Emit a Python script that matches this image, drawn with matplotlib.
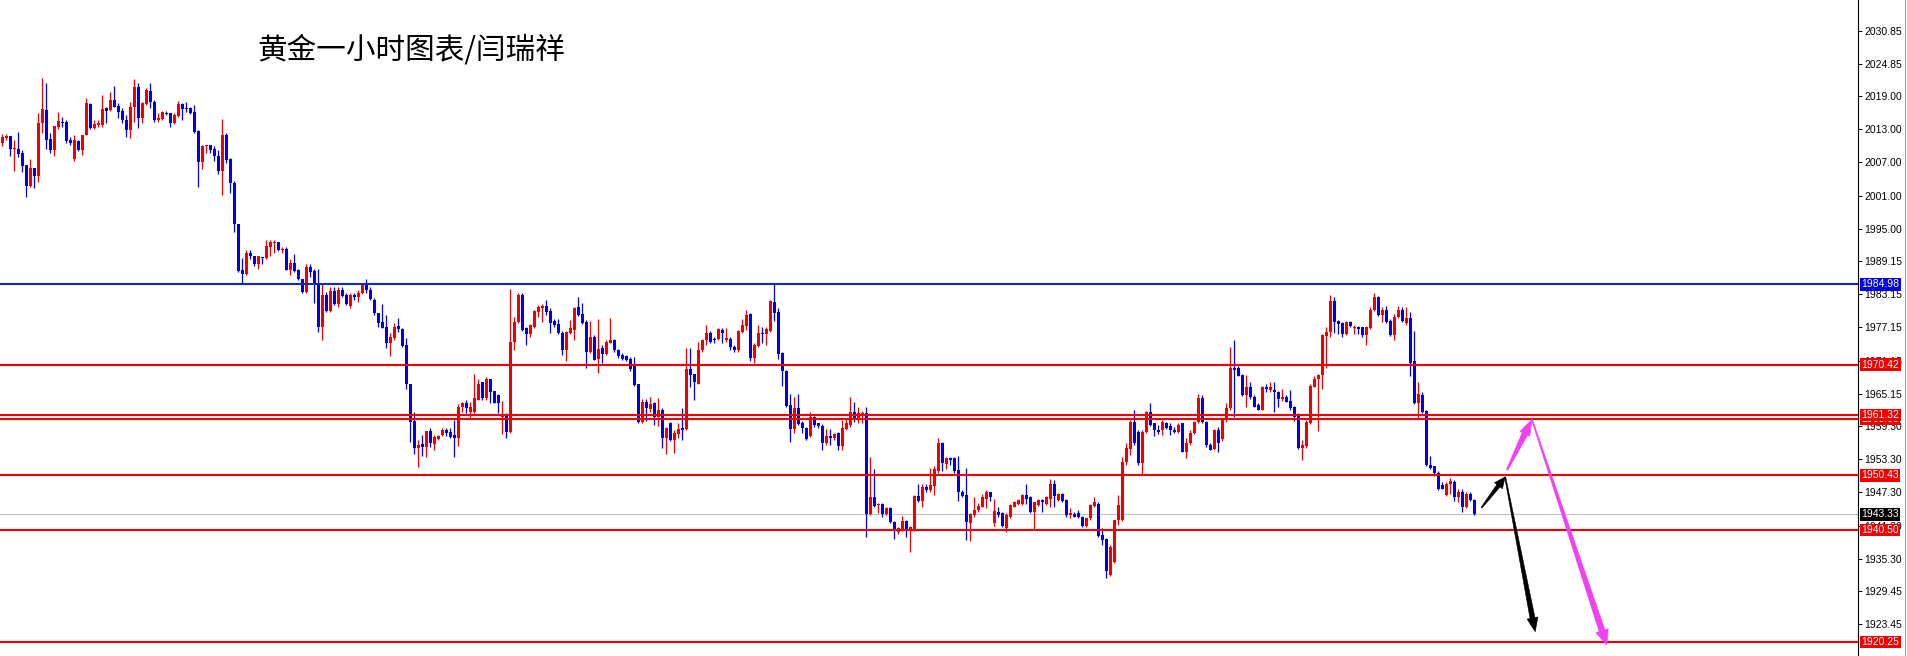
import numpy as np
import matplotlib
matplotlib.use("Agg")
import matplotlib.pyplot as plt
from matplotlib.patches import Polygon
from matplotlib.lines import Line2D
from matplotlib.transforms import blended_transform_factory, IdentityTransform

# hourly gold candles (oldest first)
opens = [
    2010.6, 2011.4, 2011.8, 2009.5, 2009.5, 2008.7, 2006.5, 2002.8, 2006.0, 2004.6,
    2014.1, 2016.5, 2011.2, 2009.3, 2013.5, 2014.4, 2014.4, 2011.1, 2007.6, 2010.8,
    2009.3, 2011.9, 2017.6, 2013.2, 2013.8, 2013.8, 2016.9, 2016.5, 2018.3, 2017.2,
    2016.4, 2014.7, 2012.9, 2017.0, 2020.7, 2015.1, 2017.6, 2020.0, 2018.0, 2014.7,
    2014.8, 2016.0, 2015.9, 2014.1, 2015.5, 2017.6, 2016.9, 2016.8, 2016.2, 2012.7,
    2007.0, 2009.9, 2010.1, 2009.4, 2008.2, 2005.4, 2012.0, 2007.6, 2003.2, 1995.8,
    1987.6, 1986.8, 1990.7, 1990.1, 1988.7, 1989.9, 1989.7, 1991.8, 1992.4, 1992.7,
    1991.2, 1991.3, 1987.6, 1988.8, 1987.5, 1986.0, 1983.6, 1988.1, 1987.4, 1985.0,
    1977.3, 1983.1, 1980.2, 1983.8, 1981.4, 1983.9, 1983.0, 1981.0, 1983.0, 1982.6,
    1983.3, 1985.0, 1984.0, 1982.2, 1979.7, 1978.2, 1977.2, 1974.4, 1975.2, 1977.4,
    1976.8, 1974.0, 1967.0, 1960.3, 1955.3, 1956.1, 1955.6, 1958.5, 1956.1, 1956.9,
    1957.7, 1958.6, 1958.3, 1957.7, 1957.1, 1962.7, 1963.4, 1961.9, 1961.9, 1964.1,
    1967.2, 1964.3, 1967.8, 1965.7, 1964.9, 1960.9, 1961.5, 1958.3, 1974.6, 1978.2,
    1983.0, 1977.0, 1976.0, 1977.2, 1979.9, 1980.7, 1981.1, 1980.2, 1978.4, 1977.8,
    1976.2, 1973.0, 1976.2, 1976.7, 1980.8, 1979.6, 1978.2, 1972.8, 1975.4, 1971.4,
    1973.4, 1972.4, 1974.4, 1974.9, 1973.1, 1972.2, 1972.0, 1971.4, 1970.2, 1966.9,
    1960.1, 1963.7, 1962.4, 1963.4, 1961.0, 1962.3, 1957.1, 1959.9, 1956.8, 1957.8,
    1958.9, 1958.7, 1969.6, 1968.7, 1967.0, 1973.0, 1974.8, 1976.2, 1975.0, 1975.0,
    1976.7, 1974.9, 1975.0, 1973.7, 1973.1, 1976.4, 1977.4, 1979.6, 1971.6, 1973.8,
    1976.2, 1976.0, 1976.6, 1981.8, 1980.0, 1972.5, 1969.3, 1963.1, 1958.7, 1962.5,
    1959.9, 1958.9, 1957.5, 1960.9, 1959.8, 1959.3, 1956.2, 1957.5, 1957.1, 1958.0,
    1955.7, 1958.7, 1959.5, 1961.9, 1960.5, 1961.5, 1961.7, 1943.4, 1946.4, 1945.0,
    1945.3, 1943.4, 1944.4, 1942.0, 1940.2, 1940.6, 1942.2, 1940.6, 1940.6, 1946.7,
    1945.8, 1948.3, 1947.7, 1948.5, 1951.1, 1956.2, 1952.5, 1953.5, 1953.5, 1951.4,
    1947.4, 1946.8, 1941.8, 1943.2, 1944.1, 1944.7, 1946.1, 1947.3, 1941.8, 1943.8,
    1943.6, 1940.8, 1942.9, 1944.7, 1945.2, 1945.3, 1946.8, 1946.5, 1943.8, 1945.0,
    1945.9, 1945.3, 1946.2, 1948.8, 1946.0, 1947.0, 1945.9, 1943.2, 1943.4, 1943.6,
    1942.9, 1941.2, 1942.6, 1944.8, 1945.3, 1939.6, 1938.8, 1932.4, 1934.8, 1942.3,
    1942.3, 1952.9, 1955.1, 1960.1, 1958.3, 1952.6, 1958.3, 1961.9, 1959.8, 1958.6,
    1958.6, 1959.9, 1959.3, 1958.6, 1958.3, 1959.8, 1954.7, 1956.2, 1958.0, 1960.1,
    1964.3, 1960.1, 1955.9, 1955.1, 1958.6, 1956.9, 1960.4, 1962.5, 1969.9, 1969.9,
    1968.5, 1964.9, 1966.3, 1964.5, 1963.1, 1962.3, 1966.4, 1965.8, 1965.8, 1965.5,
    1964.2, 1964.6, 1963.9, 1962.8, 1961.1, 1955.3, 1955.7, 1959.9, 1966.4, 1967.8,
    1968.6, 1975.6, 1976.4, 1982.0, 1978.4, 1978.0, 1976.0, 1978.2, 1977.0, 1977.3,
    1977.2, 1975.8, 1977.0, 1980.3, 1982.6, 1979.4, 1980.4, 1978.4, 1975.8, 1979.0,
    1980.3, 1977.9, 1978.8, 1971.0, 1963.5, 1964.9, 1962.1, 1952.3, 1952.0, 1950.8,
    1948.6, 1946.8, 1948.8, 1949.2, 1946.4, 1947.4, 1944.7, 1947.1, 1945.9,
]
highs = [
    2012.2, 2012.1, 2011.8, 2011.1, 2012.5, 2009.3, 2006.5, 2007.6, 2006.0, 2015.9,
    2022.2, 2021.3, 2012.3, 2013.6, 2016.2, 2015.3, 2014.7, 2011.7, 2012.0, 2011.0,
    2012.0, 2018.6, 2017.8, 2014.7, 2014.7, 2019.2, 2017.1, 2019.8, 2020.8, 2017.7,
    2016.8, 2015.6, 2018.0, 2022.1, 2021.3, 2018.0, 2020.4, 2021.3, 2018.3, 2015.9,
    2016.4, 2016.4, 2016.0, 2015.9, 2018.2, 2017.7, 2018.0, 2017.0, 2017.4, 2012.9,
    2010.2, 2010.2, 2010.2, 2009.9, 2009.3, 2014.8, 2012.4, 2007.8, 2003.7, 1995.8,
    1989.8, 1991.2, 1991.2, 1990.1, 1990.1, 1989.9, 1993.0, 1993.0, 1993.0, 1992.7,
    1991.8, 1991.8, 1989.5, 1990.4, 1987.8, 1986.0, 1988.7, 1988.6, 1987.8, 1987.8,
    1985.1, 1983.6, 1984.4, 1984.4, 1984.4, 1984.4, 1983.3, 1983.3, 1983.4, 1983.9,
    1985.2, 1985.9, 1984.5, 1982.4, 1979.8, 1981.4, 1979.4, 1976.1, 1977.9, 1978.8,
    1977.0, 1975.2, 1967.0, 1961.9, 1956.8, 1957.7, 1958.5, 1958.9, 1957.7, 1957.7,
    1958.9, 1958.9, 1958.9, 1960.4, 1963.3, 1963.7, 1964.0, 1963.7, 1968.7, 1967.8,
    1967.3, 1968.2, 1967.9, 1965.7, 1965.2, 1963.9, 1961.6, 1984.1, 1979.1, 1983.3,
    1983.3, 1977.3, 1977.8, 1980.4, 1981.2, 1981.4, 1982.2, 1980.6, 1978.6, 1978.6,
    1976.6, 1976.6, 1978.5, 1980.8, 1982.6, 1981.5, 1978.5, 1978.4, 1975.8, 1978.6,
    1974.0, 1974.9, 1978.8, 1975.0, 1973.2, 1972.5, 1972.2, 1971.8, 1971.8, 1967.0,
    1964.2, 1964.2, 1964.6, 1963.7, 1964.3, 1962.5, 1959.2, 1960.1, 1958.6, 1959.8,
    1962.5, 1973.4, 1973.4, 1968.8, 1974.6, 1975.0, 1977.6, 1976.6, 1975.4, 1977.0,
    1977.0, 1977.0, 1975.4, 1974.0, 1976.7, 1978.6, 1980.4, 1979.8, 1974.3, 1977.6,
    1977.3, 1977.3, 1982.1, 1985.0, 1980.6, 1972.8, 1969.5, 1965.2, 1964.6, 1965.2,
    1960.3, 1959.2, 1961.9, 1961.1, 1959.9, 1959.7, 1958.7, 1958.7, 1958.1, 1958.3,
    1960.4, 1960.5, 1964.6, 1963.7, 1962.8, 1962.1, 1962.8, 1953.8, 1951.5, 1945.4,
    1945.4, 1944.7, 1944.6, 1942.2, 1941.1, 1943.0, 1942.3, 1941.2, 1946.8, 1948.8,
    1948.8, 1948.8, 1951.7, 1952.1, 1957.1, 1956.5, 1953.8, 1953.8, 1953.8, 1953.9,
    1947.7, 1951.7, 1943.6, 1946.4, 1945.4, 1947.0, 1947.7, 1947.4, 1946.2, 1944.7,
    1943.8, 1943.5, 1945.3, 1945.8, 1946.2, 1947.1, 1948.9, 1946.7, 1945.6, 1946.2,
    1946.2, 1946.7, 1949.7, 1949.5, 1947.2, 1947.2, 1946.2, 1944.4, 1943.8, 1944.1,
    1943.0, 1942.7, 1945.2, 1946.5, 1945.5, 1940.8, 1939.0, 1937.8, 1942.4, 1946.8,
    1953.8, 1956.3, 1960.4, 1962.2, 1958.6, 1958.6, 1962.1, 1963.5, 1959.9, 1959.5,
    1960.4, 1960.1, 1959.8, 1959.2, 1959.9, 1959.9, 1957.1, 1958.6, 1960.3, 1965.2,
    1964.9, 1960.3, 1956.2, 1958.7, 1959.2, 1960.7, 1963.4, 1973.6, 1974.8, 1970.2,
    1968.7, 1968.6, 1967.3, 1964.9, 1963.4, 1966.6, 1966.9, 1967.3, 1967.3, 1965.7,
    1966.1, 1964.9, 1965.8, 1962.9, 1961.6, 1956.8, 1960.4, 1966.9, 1968.4, 1968.8,
    1976.0, 1977.3, 1983.0, 1982.6, 1978.5, 1978.2, 1978.4, 1978.4, 1977.6, 1977.4,
    1977.3, 1977.4, 1980.8, 1983.3, 1982.8, 1980.8, 1981.0, 1978.6, 1979.6, 1981.0,
    1980.9, 1980.9, 1980.0, 1976.6, 1967.2, 1965.4, 1962.2, 1953.9, 1952.1, 1951.1,
    1949.2, 1949.2, 1949.9, 1949.5, 1948.0, 1948.0, 1947.4, 1947.4, 1946.2,
]
lows = [
    2009.9, 2011.1, 2008.2, 2005.5, 2008.0, 2005.3, 2000.8, 2002.5, 2002.4, 2003.4,
    2012.3, 2009.4, 2008.7, 2008.2, 2013.0, 2013.5, 2010.5, 2010.2, 2007.2, 2009.1,
    2008.4, 2011.9, 2013.0, 2013.0, 2013.4, 2013.4, 2014.1, 2016.4, 2017.0, 2015.0,
    2014.2, 2011.7, 2011.4, 2014.4, 2013.2, 2014.1, 2017.4, 2016.8, 2014.4, 2014.4,
    2014.7, 2015.6, 2013.5, 2014.0, 2015.3, 2014.7, 2016.2, 2015.8, 2012.3, 2002.5,
    2005.8, 2008.8, 2008.7, 2007.3, 2005.0, 2001.1, 2006.9, 2001.5, 1994.5, 1987.1,
    1985.1, 1986.7, 1989.5, 1988.3, 1987.8, 1988.7, 1989.5, 1990.0, 1990.6, 1991.0,
    1990.6, 1987.5, 1986.6, 1987.2, 1985.7, 1983.4, 1983.3, 1986.3, 1981.6, 1976.4,
    1974.8, 1980.0, 1980.0, 1981.2, 1980.9, 1982.7, 1981.3, 1980.6, 1982.2, 1981.8,
    1983.2, 1983.4, 1982.1, 1979.4, 1977.3, 1977.0, 1973.4, 1972.0, 1974.9, 1976.4,
    1973.7, 1966.1, 1956.5, 1954.3, 1951.9, 1953.9, 1953.8, 1955.6, 1955.0, 1956.8,
    1957.5, 1957.5, 1957.1, 1953.8, 1955.7, 1961.9, 1961.6, 1960.7, 1961.6, 1964.0,
    1964.1, 1964.1, 1963.4, 1963.4, 1961.6, 1957.9, 1957.1, 1958.0, 1973.1, 1977.9,
    1976.6, 1974.0, 1975.4, 1977.0, 1979.1, 1978.2, 1979.4, 1976.1, 1977.3, 1976.0,
    1972.2, 1971.0, 1976.0, 1974.9, 1979.2, 1977.8, 1969.8, 1972.5, 1971.2, 1968.9,
    1970.7, 1972.2, 1974.3, 1972.8, 1971.6, 1971.3, 1971.0, 1969.3, 1966.6, 1959.9,
    1959.9, 1960.3, 1961.9, 1959.5, 1959.3, 1955.3, 1954.3, 1956.7, 1954.4, 1957.1,
    1956.8, 1958.6, 1966.4, 1964.0, 1966.9, 1972.8, 1974.0, 1974.3, 1974.3, 1974.9,
    1974.4, 1974.6, 1973.0, 1972.8, 1972.8, 1976.2, 1976.7, 1971.0, 1970.7, 1973.6,
    1974.3, 1974.0, 1976.4, 1978.4, 1971.4, 1966.6, 1962.7, 1956.5, 1958.1, 1959.5,
    1958.0, 1956.8, 1957.4, 1959.2, 1958.9, 1954.9, 1955.9, 1955.9, 1956.8, 1954.9,
    1954.9, 1958.6, 1959.2, 1960.1, 1959.8, 1959.8, 1939.2, 1943.2, 1944.7, 1943.5,
    1942.8, 1943.2, 1941.7, 1938.8, 1939.8, 1940.4, 1939.3, 1936.6, 1940.4, 1945.6,
    1944.7, 1947.4, 1947.4, 1946.8, 1950.8, 1951.2, 1951.5, 1952.3, 1950.8, 1945.8,
    1946.5, 1938.7, 1938.6, 1942.9, 1943.8, 1944.6, 1944.4, 1945.8, 1941.2, 1942.9,
    1941.1, 1940.2, 1942.6, 1944.6, 1945.0, 1945.0, 1945.3, 1943.5, 1940.5, 1944.8,
    1943.8, 1945.0, 1944.7, 1944.7, 1945.8, 1945.6, 1942.9, 1942.6, 1942.8, 1942.6,
    1941.1, 1941.0, 1942.4, 1944.6, 1939.2, 1937.8, 1931.8, 1932.1, 1934.6, 1941.4,
    1942.2, 1952.3, 1954.1, 1955.9, 1952.3, 1950.6, 1958.1, 1959.3, 1957.5, 1957.9,
    1957.7, 1958.8, 1957.7, 1958.1, 1958.0, 1954.6, 1953.5, 1955.9, 1957.9, 1959.9,
    1959.8, 1955.6, 1954.9, 1954.9, 1954.7, 1956.7, 1960.1, 1962.2, 1961.0, 1968.3,
    1964.8, 1962.8, 1964.2, 1962.7, 1962.2, 1962.2, 1965.5, 1965.5, 1961.9, 1962.8,
    1963.9, 1963.6, 1962.3, 1960.3, 1955.1, 1953.2, 1955.3, 1959.7, 1966.3, 1958.5,
    1966.0, 1969.8, 1975.4, 1976.2, 1976.0, 1975.4, 1975.8, 1977.2, 1976.0, 1976.0,
    1975.4, 1974.0, 1976.8, 1980.2, 1979.2, 1978.2, 1977.9, 1975.6, 1974.8, 1978.8,
    1978.2, 1977.6, 1968.4, 1963.3, 1960.7, 1961.6, 1952.0, 1951.5, 1950.2, 1947.8,
    1947.9, 1946.7, 1947.0, 1945.8, 1945.6, 1943.8, 1944.4, 1945.8, 1943.2,
]
closes = [
    2011.7, 2011.8, 2009.5, 2009.6, 2008.5, 2006.4, 2002.8, 2006.0, 2004.6, 2014.1,
    2016.6, 2011.1, 2009.3, 2013.6, 2014.5, 2014.1, 2010.9, 2010.5, 2011.0, 2009.3,
    2012.0, 2017.7, 2013.2, 2014.0, 2014.2, 2016.6, 2016.4, 2018.3, 2017.1, 2016.2,
    2014.6, 2012.9, 2017.1, 2020.7, 2015.1, 2017.7, 2020.1, 2018.0, 2014.7, 2015.0,
    2016.2, 2015.8, 2014.2, 2015.6, 2017.6, 2016.6, 2016.7, 2015.9, 2012.6, 2007.0,
    2010.0, 2010.1, 2009.3, 2008.1, 2005.4, 2012.0, 2007.5, 2003.2, 1995.8, 1987.4,
    1986.8, 1990.6, 1990.0, 1988.7, 1990.0, 1989.7, 1991.9, 1992.7, 1992.7, 1991.2,
    1991.3, 1987.6, 1988.8, 1987.4, 1985.9, 1983.6, 1988.1, 1987.2, 1984.8, 1977.3,
    1983.0, 1980.2, 1983.8, 1981.4, 1984.0, 1982.8, 1981.4, 1983.0, 1982.6, 1983.4,
    1985.0, 1983.9, 1982.3, 1979.7, 1978.0, 1977.1, 1974.4, 1975.4, 1977.2, 1976.8,
    1973.8, 1967.0, 1960.1, 1955.3, 1955.9, 1955.6, 1958.5, 1956.2, 1957.4, 1957.5,
    1958.6, 1958.1, 1957.4, 1957.1, 1962.8, 1963.4, 1962.5, 1962.8, 1964.3, 1966.9,
    1964.3, 1967.9, 1965.5, 1963.5, 1963.4, 1961.3, 1958.3, 1974.6, 1978.2, 1983.0,
    1976.7, 1976.0, 1977.6, 1980.2, 1980.9, 1981.1, 1979.9, 1977.9, 1977.6, 1976.1,
    1973.0, 1976.4, 1977.0, 1980.6, 1979.4, 1978.0, 1972.8, 1975.4, 1971.3, 1973.2,
    1972.4, 1974.6, 1974.9, 1973.0, 1972.0, 1971.4, 1971.3, 1969.6, 1966.7, 1960.1,
    1963.7, 1962.5, 1963.3, 1960.9, 1962.3, 1957.1, 1958.9, 1956.8, 1958.1, 1958.7,
    1958.6, 1969.6, 1968.5, 1967.2, 1973.0, 1974.9, 1976.2, 1974.6, 1974.8, 1976.8,
    1976.2, 1975.2, 1973.6, 1973.1, 1976.6, 1977.6, 1979.4, 1971.6, 1974.0, 1976.2,
    1976.0, 1976.8, 1982.0, 1979.8, 1972.4, 1969.3, 1963.0, 1958.7, 1962.5, 1959.7,
    1958.9, 1956.9, 1961.0, 1959.5, 1959.3, 1956.2, 1957.5, 1957.1, 1957.9, 1955.7,
    1958.9, 1959.8, 1961.9, 1960.5, 1961.7, 1961.7, 1943.4, 1946.4, 1944.8, 1945.2,
    1943.4, 1944.4, 1942.0, 1940.4, 1940.8, 1942.2, 1940.6, 1941.1, 1946.7, 1945.8,
    1948.3, 1947.7, 1948.6, 1951.5, 1956.2, 1952.6, 1953.5, 1953.2, 1951.2, 1947.3,
    1946.7, 1942.0, 1943.4, 1944.2, 1944.8, 1946.4, 1947.3, 1946.4, 1944.0, 1943.2,
    1941.2, 1943.2, 1945.0, 1945.6, 1945.9, 1946.8, 1946.2, 1943.8, 1945.5, 1945.9,
    1945.6, 1946.4, 1948.8, 1946.7, 1947.1, 1945.8, 1943.2, 1943.5, 1942.9, 1942.9,
    1941.2, 1942.6, 1945.0, 1945.5, 1939.4, 1938.7, 1933.1, 1937.5, 1942.3, 1945.0,
    1952.9, 1955.3, 1960.1, 1956.2, 1952.6, 1958.3, 1961.9, 1959.5, 1958.6, 1958.3,
    1960.1, 1958.9, 1958.6, 1958.3, 1959.5, 1954.7, 1956.2, 1958.1, 1960.1, 1964.3,
    1960.1, 1955.9, 1955.0, 1958.6, 1956.3, 1960.5, 1962.5, 1969.9, 1969.4, 1968.4,
    1964.9, 1966.3, 1964.5, 1962.8, 1962.3, 1966.4, 1966.0, 1966.4, 1965.5, 1964.2,
    1964.6, 1963.7, 1962.5, 1961.0, 1955.3, 1955.9, 1960.1, 1966.6, 1967.9, 1968.5,
    1975.8, 1976.4, 1982.0, 1978.2, 1977.8, 1976.0, 1978.2, 1977.4, 1977.3, 1976.8,
    1975.8, 1977.2, 1980.4, 1982.6, 1979.4, 1980.4, 1978.2, 1975.8, 1979.0, 1980.3,
    1978.4, 1978.8, 1970.7, 1963.5, 1965.2, 1961.9, 1952.3, 1951.7, 1950.8, 1947.9,
    1948.0, 1948.8, 1949.4, 1946.4, 1947.4, 1944.7, 1947.1, 1945.9, 1943.33,
]

# horizontal levels drawn on the chart
red_levels = [1970.42, 1960.65, 1961.32, 1950.43, 1940.50, 1920.25]
blue_level = 1984.98
bid_price = 1943.33
price_ticks = [2030.85, 2024.85, 2019.00, 2013.00, 2007.00, 2001.00, 1995.00,
               1989.15, 1983.15, 1977.15, 1971.15, 1965.15, 1959.30, 1953.30,
               1947.30, 1941.30, 1935.30, 1929.45, 1923.45]

# projected path arrows: (bar, price) start -> end
black_arrows = [((369.8, 1944.55), (375.7, 1950.1)),
                ((375.7, 1950.1), (383.2, 1922.1))]
pink_arrows = [((376.2, 1951.4), (382.4, 1960.5)),
               ((382.4, 1960.5), (401.1, 1919.7))]

title = "黄金一小时图表/闫瑞祥"

RED = "#f00000"
BLUE = "#0000e6"
PINK = "#f040f0"

plt.rcParams['font.family'] = ['Liberation Sans', 'DejaVu Sans']

W, H = 1907, 656
fig = plt.figure(figsize=(W / 100, H / 100), dpi=100)
fig.patch.set_facecolor('white')
ax = fig.add_axes([0, 0, 1858 / W, 1])
ax.set_facecolor('white')

o = np.array(opens)
h = np.array(highs)
l = np.array(lows)
c = np.array(closes)
x = np.arange(len(c))
cols = np.where(c >= o, RED, BLUE)

ax.vlines(x, l, h, colors=cols, lw=0.9, zorder=2)
body = np.maximum(np.abs(c - o), 0.15)
ax.bar(x, body, bottom=np.minimum(o, c), width=0.76, color=cols, lw=0, zorder=2)

ax.set_xlim(-0.575, 463.9)
ax.set_ylim(1917.71, 2036.40)

ax.axhline(bid_price, color='#c0c0c0', lw=0.8, zorder=1)
ax.axhline(blue_level, color='#1428b4', lw=1.5, zorder=3)
for lv in red_levels:
    ax.axhline(lv, color=RED, lw=1.5, zorder=3)

# axis on the right, MT4 style
for s in ['left', 'top', 'bottom']:
    ax.spines[s].set_visible(False)
ax.spines['right'].set_linewidth(0.8)
ax.set_xticks([])
ax.set_yticks(price_ticks)
ax.set_yticklabels([f"{t:.2f}" for t in price_ticks])
ax.tick_params(axis='y', left=False, labelleft=False, right=True, labelright=True,
               length=3, width=0.7, pad=1.5, labelsize=7.5, direction='out')

trans = blended_transform_factory(ax.transAxes, ax.transData)


def price_tag(v, color):
    ax.text(1.0018, v, f"{v:.2f}", transform=trans, color='white', fontsize=7.5,
            va='center', ha='left', zorder=6, clip_on=False,
            bbox=dict(boxstyle='square,pad=0.14', fc=color, ec='none'))


for lv in red_levels:
    price_tag(lv, RED)
price_tag(blue_level, BLUE)
price_tag(bid_price, 'black')

fig.add_artist(Line2D([1905 / W, 1905 / W], [0, 1], color='#a0a0a0', lw=0.8))


def taper_arrow(p0, p1, color, w0, w1, head_w, head_len):
    (x0, y0), (x1, y1) = ax.transData.transform([p0, p1])
    d = np.array([x1 - x0, y1 - y0])
    u = d / np.hypot(*d)
    n = np.array([-u[1], u[0]])
    a = np.array([x0, y0])
    tip = np.array([x1, y1])
    base = tip - u * head_len
    pts = [a + n * w0 / 2, base + n * w1 / 2, base + n * head_w / 2, tip,
           base - n * head_w / 2, base - n * w1 / 2, a - n * w0 / 2]
    ax.add_patch(Polygon(pts, closed=True, transform=IdentityTransform(),
                         fc=color, ec=color, lw=0.4, zorder=5))


taper_arrow(*black_arrows[0], 'black', 1.2, 4.0, 10, 11)
taper_arrow(*black_arrows[1], 'black', 1.0, 5.0, 11, 14)
taper_arrow(*pink_arrows[0], PINK, 1.5, 6.0, 11, 16)
taper_arrow(*pink_arrows[1], PINK, 1.0, 6.0, 13, 15)

fig.text(257 / W, 1 - 50 / H, title, fontsize=21.3, va='center', ha='left',
         family=['Noto Sans CJK SC', 'DejaVu Sans'], color='black')

fig.savefig("out.png", dpi=100, facecolor='white')
